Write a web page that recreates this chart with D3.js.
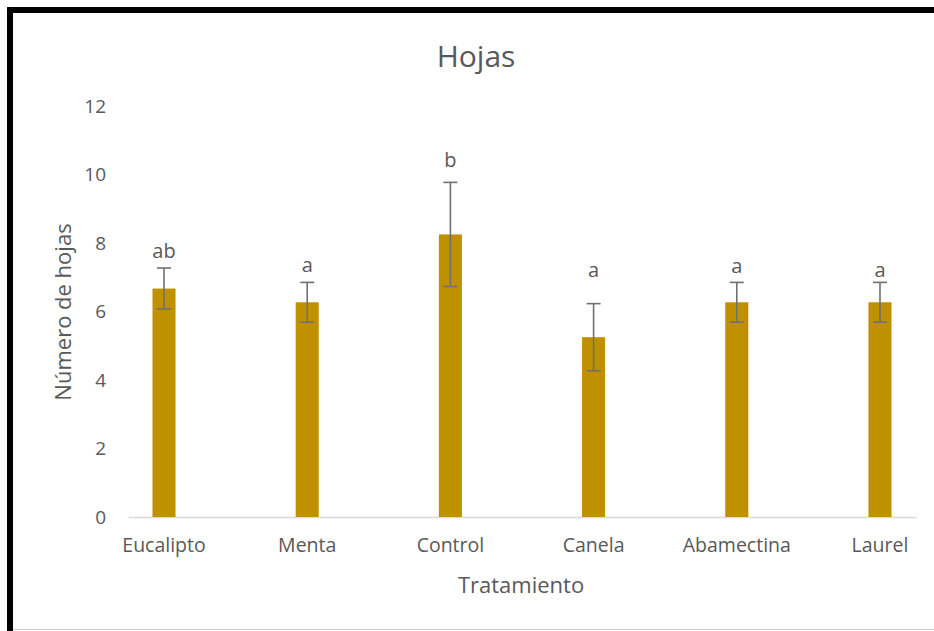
<!DOCTYPE html>
<html>
<head>
<meta charset="utf-8">
<script src="https://cdn.jsdelivr.net/npm/d3@7"></script>
<style>
  body { margin: 0; background: #fff; }
  svg text { font-family: "Open Sans", "Noto Sans", sans-serif; fill: #595959; }
</style>
</head>
<body>
<div id="chart"></div>
<script>
// datos
const tratamientos = ["Eucalipto", "Menta", "Control", "Canela", "Abamectina", "Laurel"];
const medias = [6.67, 6.27, 8.25, 5.25, 6.27, 6.27];
const errores = [0.6, 0.58, 1.52, 0.98, 0.58, 0.58];
const letras = ["ab", "a", "b", "a", "a", "a"];
const alturaLetras = [7.77, 7.37, 10.42, 7.2, 7.34, 7.2]; // posición de la letra (en unidades de y)
const ticksY = [0, 2, 4, 6, 8, 10, 12];

const W = 934, H = 631;
const svg = d3.select("#chart").append("svg")
    .attr("width", W).attr("height", H);

svg.append("rect").attr("width", W).attr("height", H).attr("fill", "#fff");

// marco (borde negro arriba e izquierda, gris fino abajo)
svg.append("path")
    .attr("d", `M10,${H} V10 H${W}`)
    .attr("fill", "none").attr("stroke", "#000").attr("stroke-width", 6);
svg.append("line")
    .attr("x1", 13).attr("x2", W).attr("y1", 629.5).attr("y2", 629.5)
    .attr("stroke", "#d0d0d0").attr("stroke-width", 1);

const x = d3.scaleBand()
    .domain(tratamientos)
    .range([128, 916])
    .paddingInner(0.839)
    .paddingOuter(0.171);

const y = d3.scaleLinear()
    .domain([0, 12])
    .range([517, 106]);

// eje Y (solo etiquetas)
svg.append("g")
    .attr("transform", "translate(106,0)")
    .call(d3.axisLeft(y).tickValues(ticksY).tickSize(0).tickPadding(0))
    .call(g => g.select(".domain").remove())
    .selectAll("text")
    .style("font-size", "19px")
    .style("fill", "#595959");

// eje X
svg.append("g")
    .attr("transform", `translate(0,${y(0)})`)
    .call(d3.axisBottom(x).tickSize(0).tickPadding(21))
    .call(g => g.select(".domain").attr("stroke", "#d9d9d9").attr("stroke-width", 1.3))
    .selectAll("text")
    .style("font-size", "19.5px")
    .style("fill", "#595959");

const datos = tratamientos.map((t, i) => ({ t, m: medias[i], e: errores[i], l: letras[i], ly: alturaLetras[i] }));

// barras
svg.selectAll(".barra")
    .data(datos)
    .join("rect")
    .attr("class", "barra")
    .attr("x", d => x(d.t))
    .attr("y", d => y(d.m))
    .attr("width", x.bandwidth())
    .attr("height", d => y(0) - y(d.m))
    .attr("fill", "#bf9000");

// barras de error
const eb = svg.selectAll(".err")
    .data(datos)
    .join("g")
    .attr("class", "err")
    .attr("stroke", "#707070")
    .attr("stroke-width", 1.6);
const cx = d => x(d.t) + x.bandwidth() / 2;
eb.append("line")
    .attr("x1", cx).attr("x2", cx)
    .attr("y1", d => y(d.m + d.e)).attr("y2", d => y(d.m - d.e));
eb.append("line")
    .attr("x1", d => cx(d) - 7).attr("x2", d => cx(d) + 7)
    .attr("y1", d => y(d.m + d.e)).attr("y2", d => y(d.m + d.e));
eb.append("line")
    .attr("x1", d => cx(d) - 7).attr("x2", d => cx(d) + 7)
    .attr("y1", d => y(d.m - d.e)).attr("y2", d => y(d.m - d.e));

// letras de significancia
svg.selectAll(".letra")
    .data(datos)
    .join("text")
    .attr("class", "letra")
    .attr("x", cx)
    .attr("y", d => y(d.ly))
    .attr("dy", "0.35em")
    .attr("text-anchor", "middle")
    .style("font-size", "20px")
    .text(d => d.l);

// títulos
svg.append("text")
    .attr("x", 476).attr("y", 56)
    .attr("dy", "0.35em")
    .attr("text-anchor", "middle")
    .style("font-size", "30px")
    .text("Hojas");

svg.append("text")
    .attr("x", 521).attr("y", 585)
    .attr("dy", "0.35em")
    .attr("text-anchor", "middle")
    .style("font-size", "22px")
    .text("Tratamiento");

svg.append("text")
    .attr("transform", "translate(63,312) rotate(-90)")
    .attr("dy", "0.35em")
    .attr("text-anchor", "middle")
    .style("font-size", "22px")
    .text("Número de hojas");
</script>
</body>
</html>
